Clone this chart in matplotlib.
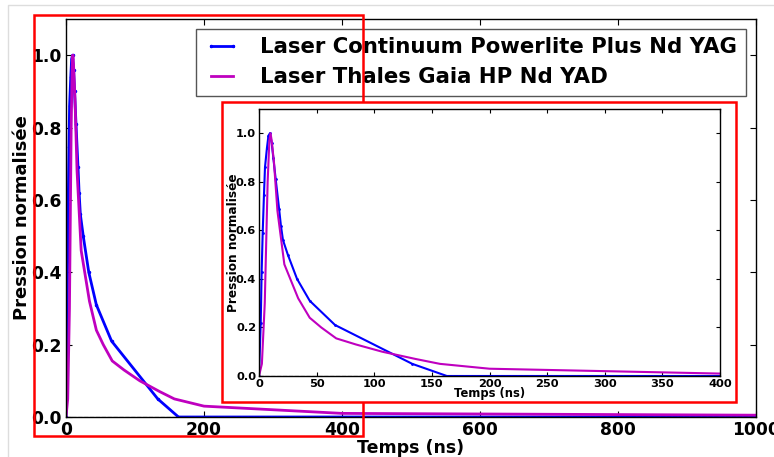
import matplotlib
matplotlib.use('Agg')
import matplotlib.pyplot as plt
from matplotlib.patches import Rectangle
from matplotlib.lines import Line2D

# Laser Continuum Powerlite Plus Nd YAG (ns, normalised pressure)
t_blue = [0, 1.5, 2.3, 3.2, 4.3, 5.2, 6.9, 8.2, 9.5, 11, 12.4, 14.5, 17.4, 19, 20.8,
          25, 33, 44, 66, 133, 163, 1000]
p_blue = [0, 0.22, 0.43, 0.59, 0.745, 0.86, 0.94, 0.99, 1.0, 0.96, 0.90, 0.81, 0.69,
          0.62, 0.56, 0.50, 0.40, 0.31, 0.21, 0.05, 0.0, 0.0]

# Laser Thales Gaia HP Nd YAD
t_mag = [0, 2.5, 5, 6, 7.5, 9, 10, 11, 13, 16, 22, 34, 44, 54, 67, 84, 107, 136, 157,
         200, 400, 1000]
p_mag = [0, 0.05, 0.3, 0.5, 0.8, 0.97, 1.0, 0.97, 0.88, 0.68, 0.46, 0.32, 0.24, 0.20,
         0.155, 0.13, 0.10, 0.07, 0.05, 0.03, 0.01, 0.005]

labels = ['Laser Continuum Powerlite Plus Nd YAG', 'Laser Thales Gaia HP Nd YAD']
main_xticks = [0, 200, 400, 600, 800, 1000]
inset_xticks = [0, 50, 100, 150, 200, 250, 300, 350, 400]
yticks = [0.0, 0.2, 0.4, 0.6, 0.8, 1.0]

W, H = 774, 457
fig = plt.figure(figsize=(W / 100, H / 100), dpi=100)


def px_box(x0, y0, x1, y1):
    # pixel box (top-left origin) -> figure fraction [l, b, w, h]
    return [x0 / W, 1 - y1 / H, (x1 - x0) / W, (y1 - y0) / H]


def style_ax(ax, fs):
    ax.tick_params(direction='in', top=True, right=True, labelsize=fs, length=4)
    for lab in ax.get_xticklabels() + ax.get_yticklabels():
        lab.set_fontweight('bold')
    for s in ax.spines.values():
        s.set_color('black')
        s.set_linewidth(1)


# main axes
ax = fig.add_axes(px_box(66, 19, 756, 417))
ax.plot(t_blue, p_blue, 'b.-', lw=2, ms=3, label=labels[0])
ax.plot(t_mag, p_mag, 'm-', lw=2, label=labels[1])
ax.axhline(0, color='k', ls='--', lw=0.8)
ax.set_xlim(0, 1000)
ax.set_ylim(0, 1.1)
ax.set_xticks(main_xticks)
ax.set_yticks(yticks)
ax.set_xlabel('Temps (ns)', fontsize=12.5, fontweight='bold', labelpad=0)
ax.set_ylabel('Pression normalisée', fontsize=13, fontweight='bold', labelpad=0)
style_ax(ax, 12.3)
ax.tick_params(pad=3)
leg = ax.legend(loc='upper right', bbox_to_anchor=(0.985, 0.975),
                prop={'weight': 'bold', 'size': 15.3}, numpoints=2, fancybox=False,
                handlelength=1.6, handletextpad=1.0, borderpad=0.4,
                labelspacing=0.45, borderaxespad=0)
leg.get_frame().set_edgecolor('#555555')
leg.get_frame().set_alpha(1)

# big red frame (on top of legend)
fig.patches.append(Rectangle((34 / W, 1 - 436 / H), (363 - 34) / W, (436 - 15) / H,
                             transform=fig.transFigure, fill=False, ec='red', lw=1.8,
                             zorder=5))
# inner red frame, white filled
fig.patches.append(Rectangle((222 / W, 1 - 402 / H), (736 - 222) / W, (402 - 102) / H,
                             transform=fig.transFigure, fc='white', ec='red', lw=1.8,
                             zorder=6))
# faint screenshot border
fig.lines.append(Line2D([8 / W, 8 / W, 1], [0, 1 - 5 / H, 1 - 5 / H],
                        transform=fig.transFigure, color='#dddddd', lw=1))

# inset axes
axi = fig.add_axes(px_box(259, 109, 720, 376))
axi.set_zorder(10)
axi.plot(t_blue, p_blue, 'b.-', lw=1.5, ms=2)
axi.plot(t_mag, p_mag, 'm-', lw=1.5)
axi.axhline(0, color='k', ls='--', lw=0.8)
axi.set_xlim(0, 400)
axi.set_ylim(0, 1.1)
axi.set_xticks(inset_xticks)
axi.set_yticks(yticks)
axi.set_xlabel('Temps (ns)', fontsize=8.3, fontweight='bold', labelpad=-1)
axi.set_ylabel('Pression normalisée', fontsize=8.7, fontweight='bold', labelpad=-3)
style_ax(axi, 8.2)
axi.tick_params(length=3, pad=2)

fig.savefig('out.png', dpi=100)
